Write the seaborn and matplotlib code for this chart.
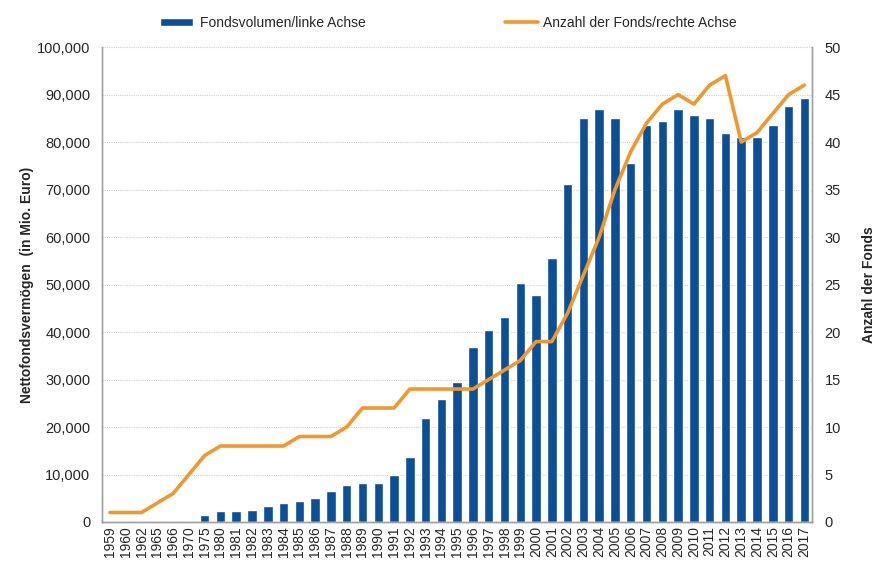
import numpy as np
import pandas as pd
import seaborn as sns
import matplotlib.pyplot as plt
from matplotlib.ticker import FuncFormatter
from matplotlib.lines import Line2D
from matplotlib.patches import Patch

years = ['1959', '1960', '1962', '1965', '1966', '1970', '1975',
         '1980', '1981', '1982', '1983', '1984', '1985', '1986', '1987',
         '1988', '1989', '1990', '1991', '1992', '1993', '1994', '1995',
         '1996', '1997', '1998', '1999', '2000', '2001', '2002', '2003',
         '2004', '2005', '2006', '2007', '2008', '2009', '2010', '2011',
         '2012', '2013', '2014', '2015', '2016', '2017']

# Nettofondsvermoegen in Mio. Euro (linke Achse)
volumen = [300, 300, 300, 300, 300, 300, 1400,
           2300, 2300, 2600, 3300, 3900, 4500, 5000, 6600,
           7700, 8200, 8200, 9900, 13700, 21900, 25800, 29500,
           36900, 40400, 43200, 50300, 47800, 55700, 71200, 85100,
           87000, 85100, 75600, 83600, 84400, 87000, 85800, 85100,
           82000, 81000, 81000, 83600, 87700, 89300]

# Anzahl der Fonds (rechte Achse)
anzahl = [1, 1, 1, 2, 3, 5, 7,
          8, 8, 8, 8, 8, 9, 9, 9,
          10, 12, 12, 12, 14, 14, 14, 14,
          14, 15, 16, 17, 19, 19, 22, 26,
          30, 35, 39, 42, 44, 45, 44, 46,
          47, 40, 41, 43, 45, 46]

bar_color = '#0b4f96'
line_color = '#f0982e'

sns.set_style('white')
plt.rcParams['font.family'] = ['Liberation Sans', 'DejaVu Sans']

df = pd.DataFrame({'Jahr': years, 'Volumen': volumen, 'Anzahl': anzahl})

fig = plt.figure(figsize=(8.8, 5.68), dpi=100)
ax = fig.add_axes([0.116, 0.081, 0.807, 0.836])

sns.barplot(data=df, x='Jahr', y='Volumen', color=bar_color, width=0.6,
            saturation=1, ax=ax, zorder=2)
ax.set_xlim(-0.5, len(years) - 0.5)
ax.set_ylim(0, 100000)
ax.set_yticks(np.arange(0, 100001, 10000))
ax.yaxis.set_major_formatter(FuncFormatter(lambda v, p: f'{int(v):,}'))
ax.grid(axis='y', color='#d0d0d0', linestyle=(0, (1, 1)), linewidth=0.8, zorder=0)
ax.set_axisbelow(True)
ax.tick_params(axis='x', labelrotation=90, labelsize=10, length=0, pad=3)
ax.tick_params(axis='y', labelsize=10.5, length=0, pad=8.5)
ax.set_xlabel('')
ax.set_ylabel('Nettofondsvermögen  (in Mio. Euro)', fontsize=10, fontweight='bold', labelpad=2)

ax2 = ax.twinx()
sns.lineplot(x=np.arange(len(years)), y=df['Anzahl'], color=line_color,
             linewidth=2.6, ax=ax2, zorder=3)
ax2.set_ylim(0, 50)
ax2.set_yticks(np.arange(0, 51, 5))
ax2.tick_params(axis='y', labelsize=10.5, length=0, pad=9)
ax2.set_ylabel('Anzahl der Fonds', fontsize=10, fontweight='bold', labelpad=15)

for a in (ax, ax2):
    a.spines['top'].set_visible(False)
    for s in ('left', 'right', 'bottom'):
        a.spines[s].set_color('#a0a0a0')
        a.spines[s].set_linewidth(1.0)

leg1 = fig.legend(handles=[Patch(facecolor=bar_color, label='Fondsvolumen/linke Achse')],
                  loc='center left', bbox_to_anchor=(0.182, 0.9595), frameon=False,
                  fontsize=10, handlelength=2.4, handleheight=0.5, handletextpad=0.5,
                  borderpad=0, borderaxespad=0)
leg2 = fig.legend(handles=[Line2D([0], [0], color=line_color, linewidth=2.6,
                                  label='Anzahl der Fonds/rechte Achse')],
                  loc='center left', bbox_to_anchor=(0.574, 0.9595), frameon=False,
                  fontsize=10, handlelength=2.4, handletextpad=0.3,
                  borderpad=0, borderaxespad=0)

fig.savefig('out.png', dpi=100)
